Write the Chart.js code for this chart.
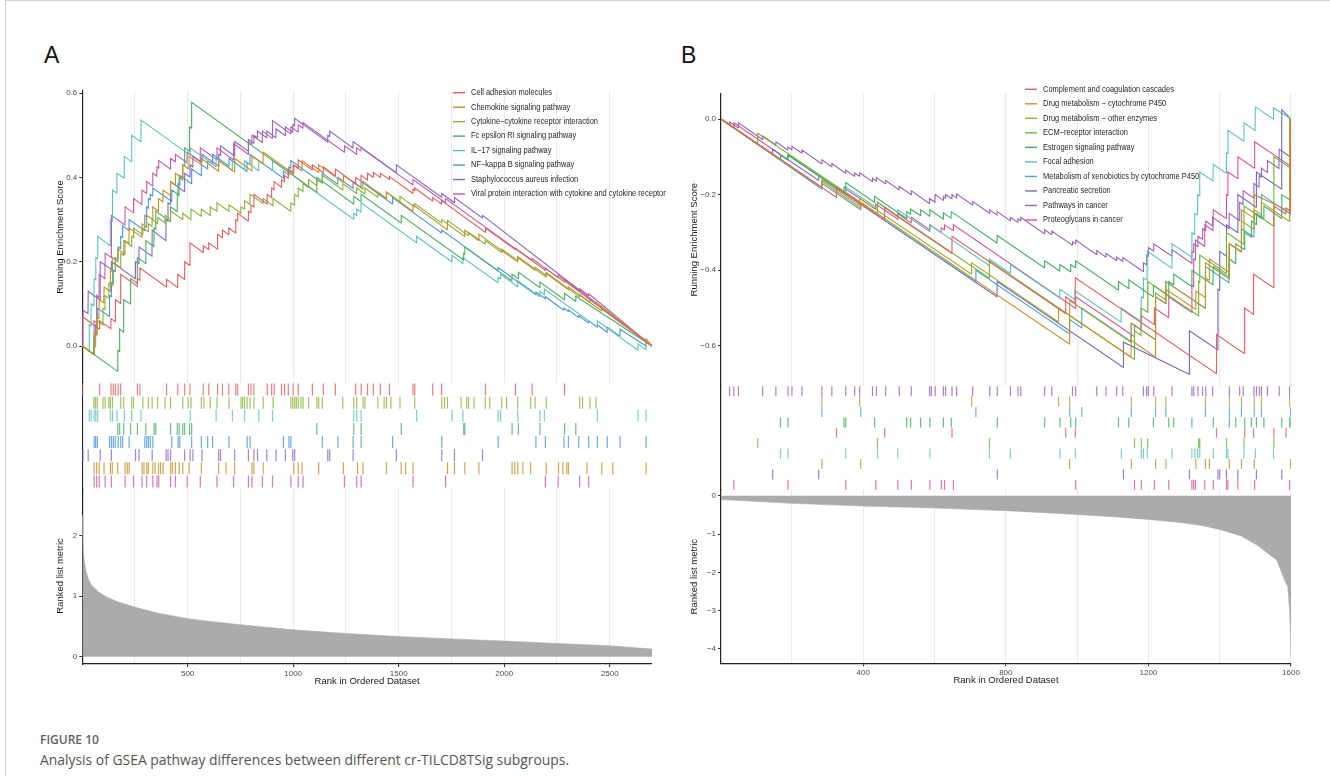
<!DOCTYPE html>
<html>
<head>
<meta charset="utf-8">
<script src="https://cdn.jsdelivr.net/npm/chart.js@4.4.1/dist/chart.umd.min.js"></script>
<style>
  html, body { margin: 0; padding: 0; background: #fff; }
  body { width: 1330px; height: 776px; position: relative; overflow: hidden; font-family: "Liberation Sans", Arial, sans-serif; }
  .frame { position: absolute; left: 5px; top: 0; width: 1325px; height: 776px; border-left: 1px solid #d4d4d4; border-top: 1px solid #d4d4d4; box-sizing: border-box; }
  .panel-label { position: absolute; top: 44px; font-size: 23px; line-height: 23px; color: #111; }
  canvas { position: absolute; }
  .fig-no { position: absolute; left: 40px; top: 733px; font-family: "Open Sans", sans-serif; font-weight: 600; font-size: 12px; line-height: 14px; color: #5f5f5f; }
  .caption { position: absolute; left: 40px; top: 751px; font-family: "Open Sans", sans-serif; font-size: 13.9px; line-height: 18px; color: #555; }
</style>
</head>
<body>
<div class="frame"></div>
<div class="panel-label" style="left:44px">A</div>
<div class="panel-label" style="left:681px">B</div>
<canvas id="gseaA" width="630" height="640" style="left:40px; top:70px"></canvas>
<canvas id="gseaB" width="630" height="640" style="left:680px; top:70px"></canvas>
<div class="fig-no">FIGURE 10</div>
<div class="caption">Analysis of GSEA pathway differences between different cr-TILCD8TSig subgroups.</div>

<script>
// ---------- panel A: up-regulated pathways ----------
const rankMaxA = 2700;
const namesA = [
  "Cell adhesion molecules",
  "Chemokine signaling pathway",
  "Cytokine\u2212cytokine receptor interaction",
  "Fc epsilon RI signaling pathway",
  "IL\u221217 signaling pathway",
  "NF\u2212kappa B signaling pathway",
  "Staphylococcus aureus infection",
  "Viral protein interaction with cytokine and cytokine receptor"
];
const colorsA = ["#E0625F", "#C39024", "#86B43C", "#4DAF60", "#5DC2BA", "#4A97DA", "#8768C4", "#C45BAA"];

// running enrichment score, [rank, score] vertices
const esCellAdhesion = [[1,0],[1,0.07],[82,0.04],[83,0.06],[136,0.041],[137,0.065],[157,0.058],[158,0.11],[182,0.101],[183,0.17],[261,0.142],[262,0.16],[273,0.156],[274,0.185],[399,0.14],[400,0.158],[452,0.139],[453,0.17],[485,0.158],[486,0.2],[510,0.191],[511,0.245],[573,0.222],[574,0.238],[599,0.229],[600,0.245],[641,0.23],[642,0.265],[664,0.257],[665,0.275],[694,0.264],[695,0.28],[727,0.268],[728,0.3],[736,0.297],[737,0.315],[787,0.297],[788,0.32],[799,0.316],[800,0.335],[813,0.33],[814,0.36],[876,0.337],[877,0.36],[897,0.352],[898,0.375],[909,0.371],[910,0.39],[944,0.377],[945,0.395],[958,0.39],[959,0.405],[976,0.398],[977,0.42],[999,0.412],[1000,0.43],[1023,0.421],[1024,0.442],[1090,0.418],[1091,0.43],[1142,0.411],[1143,0.425],[1199,0.404],[1200,0.42],[1295,0.385],[1296,0.4],[1321,0.391],[1322,0.405],[1351,0.394],[1352,0.41],[1379,0.4],[1380,0.412],[1412,0.4],[1413,0.41],[1455,0.395],[1456,0.402],[1567,0.362],[1568,0.372],[1575,0.369],[1576,0.375],[1660,0.344],[1661,0.352],[1702,0.337],[1703,0.345],[1910,0.27],[1911,0.28],[2052,0.229],[2053,0.232],[2131,0.204],[2132,0.207],[2285,0.152],[2286,0.155],[2700,0]];
const esChemokine = [[1,0],[56,-0.02],[57,0.03],[68,0.026],[69,0.07],[80,0.066],[81,0.11],[103,0.102],[104,0.14],[133,0.13],[134,0.18],[142,0.177],[143,0.21],[168,0.2],[169,0.23],[203,0.218],[204,0.25],[222,0.244],[223,0.28],[283,0.258],[284,0.29],[305,0.282],[306,0.31],[334,0.3],[335,0.33],[361,0.32],[362,0.35],[383,0.342],[384,0.37],[418,0.357],[419,0.39],[441,0.382],[442,0.41],[476,0.398],[477,0.43],[506,0.42],[507,0.45],[564,0.43],[565,0.445],[646,0.415],[647,0.44],[722,0.413],[723,0.445],[804,0.416],[805,0.45],[857,0.432],[858,0.46],[1002,0.408],[1003,0.43],[1041,0.416],[1042,0.44],[1120,0.412],[1121,0.43],[1237,0.388],[1238,0.405],[1330,0.372],[1331,0.39],[1441,0.35],[1442,0.365],[1567,0.32],[1568,0.335],[1730,0.276],[1731,0.29],[1812,0.26],[1813,0.275],[1879,0.25],[1880,0.265],[2063,0.2],[2064,0.212],[2198,0.164],[2199,0.172],[2303,0.134],[2304,0.14],[2461,0.083],[2462,0.088],[2671,0.013],[2672,0.017],[2700,0]];
const esCytokine = [[1,0],[55,-0.02],[56,0],[63,-0.002],[64,0.03],[71,0.027],[72,0.06],[98,0.05],[99,0.09],[108,0.087],[109,0.12],[126,0.114],[127,0.15],[143,0.144],[144,0.2],[182,0.186],[183,0.22],[196,0.215],[197,0.25],[234,0.236],[235,0.26],[243,0.257],[244,0.28],[287,0.264],[288,0.28],[313,0.271],[314,0.29],[331,0.284],[332,0.3],[357,0.29],[358,0.305],[392,0.292],[393,0.31],[418,0.3],[419,0.32],[476,0.3],[477,0.315],[515,0.3],[516,0.325],[564,0.308],[565,0.325],[606,0.31],[607,0.33],[638,0.32],[639,0.34],[695,0.32],[696,0.335],[752,0.315],[753,0.33],[769,0.325],[770,0.345],[795,0.336],[796,0.36],[857,0.338],[858,0.35],[904,0.333],[905,0.35],[988,0.32],[989,0.34],[1006,0.334],[1007,0.36],[1023,0.354],[1024,0.375],[1046,0.367],[1047,0.385],[1072,0.376],[1073,0.395],[1111,0.381],[1112,0.395],[1137,0.386],[1138,0.405],[1234,0.37],[1235,0.385],[1300,0.362],[1301,0.375],[1339,0.361],[1340,0.375],[1400,0.353],[1401,0.365],[1441,0.35],[1442,0.365],[1505,0.342],[1506,0.355],[1575,0.33],[1576,0.338],[1703,0.292],[1704,0.3],[1730,0.29],[1731,0.298],[1830,0.262],[1831,0.27],[1909,0.242],[1910,0.25],[1987,0.222],[1988,0.23],[2063,0.203],[2064,0.21],[2145,0.18],[2146,0.187],[2198,0.168],[2199,0.174],[2356,0.117],[2357,0.122],[2405,0.104],[2406,0.11],[2434,0.1],[2435,0.104],[2700,0]];
const esFcEpsilon = [[1,0],[168,-0.06],[169,-0.01],[177,-0.013],[178,0.04],[196,0.033],[197,0.11],[229,0.1],[230,0.16],[261,0.149],[262,0.21],[301,0.196],[302,0.25],[340,0.236],[341,0.28],[348,0.277],[349,0.32],[418,0.295],[419,0.33],[450,0.319],[451,0.36],[459,0.357],[460,0.4],[476,0.394],[477,0.43],[485,0.427],[486,0.47],[508,0.462],[509,0.52],[518,0.517],[519,0.578],[1111,0.365],[1112,0.4],[1286,0.337],[1287,0.355],[1321,0.343],[1322,0.36],[1511,0.292],[1512,0.31],[1807,0.204],[1808,0.22],[1812,0.218],[1813,0.235],[2036,0.155],[2037,0.17],[2066,0.16],[2067,0.175],[2168,0.139],[2169,0.152],[2285,0.11],[2286,0.125],[2338,0.106],[2339,0.118],[2700,0]];
const esIL17 = [[1,0],[33,-0.012],[34,0.05],[42,0.047],[43,0.1],[56,0.095],[57,0.16],[64,0.157],[65,0.21],[73,0.207],[74,0.26],[133,0.238],[134,0.3],[143,0.297],[144,0.37],[164,0.363],[165,0.41],[199,0.398],[200,0.45],[234,0.437],[235,0.5],[278,0.485],[279,0.536],[511,0.453],[512,0.47],[634,0.426],[635,0.445],[711,0.417],[712,0.44],[769,0.419],[770,0.44],[836,0.416],[837,0.44],[901,0.417],[902,0.44],[1286,0.301],[1287,0.315],[1300,0.31],[1301,0.325],[1321,0.318],[1322,0.34],[1584,0.245],[1585,0.26],[1751,0.2],[1752,0.215],[1803,0.196],[1804,0.21],[1970,0.15],[1971,0.163],[1982,0.159],[1983,0.17],[2063,0.141],[2064,0.155],[2168,0.117],[2169,0.13],[2189,0.122],[2190,0.135],[2440,0.045],[2441,0.06],[2633,-0.01],[2634,0.005],[2671,-0.008],[2672,0.01],[2700,0]];
const esNFkB = [[1,0],[56,-0.02],[57,0.02],[63,0.018],[64,0.05],[71,0.047],[72,0.09],[129,0.07],[130,0.12],[138,0.117],[139,0.15],[147,0.147],[148,0.18],[156,0.177],[157,0.21],[170,0.205],[171,0.235],[182,0.231],[183,0.26],[191,0.257],[192,0.285],[222,0.274],[223,0.3],[296,0.274],[297,0.31],[305,0.307],[306,0.33],[313,0.327],[314,0.35],[322,0.347],[323,0.36],[334,0.356],[335,0.375],[424,0.343],[425,0.37],[454,0.36],[455,0.385],[462,0.382],[463,0.405],[518,0.385],[519,0.42],[564,0.404],[565,0.43],[594,0.42],[595,0.44],[617,0.432],[618,0.455],[695,0.427],[696,0.445],[781,0.414],[782,0.435],[795,0.43],[796,0.455],[953,0.398],[954,0.415],[979,0.406],[980,0.425],[988,0.422],[989,0.44],[1137,0.387],[1138,0.41],[1211,0.384],[1212,0.4],[1283,0.374],[1284,0.39],[1321,0.376],[1322,0.39],[1470,0.337],[1471,0.352],[1703,0.268],[1704,0.275],[1970,0.179],[1971,0.186],[2149,0.122],[2150,0.128],[2194,0.112],[2195,0.117],[2282,0.085],[2283,0.09],[2303,0.082],[2304,0.086],[2352,0.068],[2353,0.072],[2399,0.055],[2400,0.06],[2440,0.045],[2441,0.05],[2487,0.033],[2488,0.045],[2548,0.023],[2549,0.04],[2671,0],[2672,0.01],[2700,0]];
const esStaph = [[1,0],[4,0],[4,0.085],[28,0.077],[29,0.13],[85,0.11],[86,0.2],[138,0.182],[139,0.2],[252,0.16],[253,0.2],[269,0.195],[270,0.235],[331,0.213],[332,0.275],[397,0.25],[398,0.3],[406,0.297],[407,0.34],[418,0.336],[419,0.39],[485,0.366],[486,0.41],[511,0.401],[512,0.43],[524,0.425],[525,0.45],[567,0.435],[568,0.455],[646,0.427],[647,0.455],[655,0.452],[656,0.475],[722,0.451],[723,0.485],[787,0.462],[788,0.49],[813,0.481],[814,0.5],[830,0.494],[831,0.51],[874,0.494],[875,0.51],[918,0.494],[919,0.515],[962,0.499],[963,0.52],[997,0.507],[998,0.525],[1006,0.522],[1007,0.54],[1163,0.484],[1164,0.5],[1172,0.497],[1173,0.51],[1283,0.47],[1284,0.485],[1488,0.411],[1489,0.43],[1703,0.353],[1704,0.362],[1763,0.34],[1764,0.352],[1896,0.304],[1897,0.31],[2700,0]];
const esViral = [[1,0],[56,-0.02],[57,0.06],[68,0.056],[69,0.12],[80,0.116],[81,0.17],[108,0.16],[109,0.22],[138,0.21],[139,0.31],[203,0.287],[204,0.33],[243,0.316],[244,0.35],[283,0.336],[284,0.37],[305,0.362],[306,0.39],[334,0.38],[335,0.41],[354,0.403],[355,0.425],[362,0.422],[363,0.44],[418,0.42],[419,0.445],[441,0.437],[442,0.455],[497,0.435],[498,0.46],[559,0.438],[560,0.47],[638,0.442],[639,0.47],[717,0.442],[718,0.48],[787,0.455],[788,0.485],[804,0.479],[805,0.5],[853,0.483],[854,0.51],[901,0.493],[902,0.535],[988,0.504],[989,0.52],[1023,0.508],[1024,0.525],[1046,0.517],[1047,0.53],[1242,0.46],[1243,0.475],[1300,0.455],[1301,0.47],[1321,0.463],[1322,0.47],[1567,0.382],[1568,0.395],[1721,0.34],[1722,0.35],[2194,0.18],[2195,0.185],[2254,0.163],[2255,0.168],[2356,0.131],[2357,0.136],[2399,0.12],[2400,0.124],[2700,0]];

// gene hit positions for each set
const hitsCellAdhesion = [2,83,137,148,158,171,183,262,274,400,453,486,511,574,600,642,665,695,728,737,788,800,814,877,898,910,945,959,977,1000,1024,1091,1143,1200,1296,1322,1352,1380,1413,1456,1568,1576,1661,1703,1911,2053,2132,2286];
const hitsChemokine = [57,69,81,104,134,143,169,204,214,223,284,293,306,314,335,346,362,372,384,419,428,442,460,477,507,565,647,682,723,805,814,858,1003,1024,1042,1121,1238,1305,1331,1442,1512,1533,1568,1731,1764,1813,1880,2037,2050,2064,2088,2125,2199,2257,2278,2296,2304,2392,2462,2514,2672];
const hitsCytokine = [56,64,72,99,109,127,134,144,183,197,235,244,288,314,332,358,393,419,477,502,516,565,577,607,639,696,753,761,770,782,796,814,858,905,989,998,1007,1015,1024,1037,1047,1073,1112,1121,1138,1235,1287,1301,1331,1340,1401,1431,1442,1463,1506,1576,1704,1717,1731,1796,1822,1831,1857,1910,1931,1988,2011,2064,2125,2146,2199,2357,2371,2406,2435];
const hitsFcEpsilon = [169,178,197,230,262,302,341,349,419,451,460,477,486,509,519,1112,1287,1322,1512,1808,1813,2037,2067,2169,2286,2339];
const hitsIL17 = [34,43,57,65,74,134,144,165,200,235,279,512,635,712,770,837,902,1287,1301,1322,1585,1752,1804,1971,1983,2064,2169,2190,2441,2634,2672];
const hitsNFkB = [57,64,72,130,139,148,157,171,183,192,223,297,306,314,323,335,425,455,463,519,565,595,618,696,782,796,954,980,989,1138,1212,1284,1322,1471,1704,1971,2150,2195,2283,2304,2353,2400,2441,2488,2549,2672];
const hitsStaph = [4,29,86,139,253,270,332,398,407,419,486,512,525,568,647,656,723,788,814,831,875,919,963,998,1007,1164,1173,1284,1489,1704,1764,1897];
const hitsViral = [57,69,81,109,139,204,244,284,306,335,355,363,419,442,498,560,639,718,788,805,854,902,989,1024,1047,1243,1301,1322,1568,1722,2195,2255,2357,2400];

// ranked list metric
const metricRanksA = [1,3,6,10,18,30,45,75,120,175,270,360,500,640,750,1000,1250,1500,1750,2000,2250,2500,2700];
const metricValuesA = [2.34,2.0,1.75,1.6,1.42,1.28,1.18,1.08,0.98,0.9,0.8,0.72,0.63,0.57,0.53,0.445,0.385,0.335,0.295,0.26,0.22,0.18,0.127];

const rankLabelsA = [500, 1000, 1500, 2000, 2500];
const rankMinorA = [250, 750, 1250, 1750, 2250];
const esTicksA = [0, 0.2, 0.4, 0.6];
const metricTicksA = [0, 1, 2];

// ---------- panel B: down-regulated pathways ----------
const rankMaxB = 1600;
const namesB = [
  "Complement and coagulation cascades",
  "Drug metabolism \u2212 cytochrome P450",
  "Drug metabolism \u2212 other enzymes",
  "ECM\u2212receptor interaction",
  "Estrogen signaling pathway",
  "Focal adhesion",
  "Metabolism of xenobiotics by cytochrome P450",
  "Pancreatic secretion",
  "Pathways in cancer",
  "Proteoglycans in cancer"
];
const colorsB = ["#E0625F", "#C8902A", "#A3A82A", "#6BB536", "#3FAE62", "#5EC3BA", "#4AA3DE", "#6E6BC0", "#9B62B8", "#D9529C"];

const esComplement = [[1,0],[324,-0.207],[325,-0.18],[459,-0.266],[460,-0.235],[648,-0.355],[649,-0.31],[967,-0.514],[968,-0.47],[994,-0.487],[995,-0.42],[1390,-0.673],[1391,-0.57],[1469,-0.62],[1470,-0.5],[1494,-0.516],[1495,-0.41],[1551,-0.446],[1552,-0.23],[1585,-0.251],[1586,-0.235],[1599,-0.243],[1600,0]];
const esDrugP450 = [[1,0],[283,-0.18],[284,-0.165],[392,-0.235],[393,-0.22],[978,-0.595],[979,-0.52],[1151,-0.63],[1152,-0.585],[1219,-0.629],[1220,-0.47],[1248,-0.488],[1249,-0.45],[1332,-0.503],[1333,-0.455],[1359,-0.472],[1360,-0.42],[1370,-0.426],[1371,-0.37],[1426,-0.405],[1427,-0.33],[1460,-0.351],[1461,-0.24],[1496,-0.262],[1497,-0.2],[1598,-0.245],[1599,0],[1600,0]];
const esDrugOther = [[1,0],[283,-0.18],[284,-0.16],[389,-0.228],[390,-0.21],[703,-0.41],[704,-0.38],[947,-0.536],[948,-0.5],[978,-0.519],[979,-0.48],[1151,-0.59],[1152,-0.54],[1219,-0.583],[1220,-0.46],[1248,-0.478],[1249,-0.43],[1359,-0.5],[1360,-0.38],[1426,-0.423],[1427,-0.33],[1460,-0.351],[1461,-0.27],[1496,-0.292],[1497,-0.24],[1516,-0.252],[1517,-0.22],[1595,-0.27],[1596,0],[1600,0]];
const esECM = [[1,0],[103,-0.066],[104,-0.038],[439,-0.25],[440,-0.22],[753,-0.42],[754,-0.375],[1160,-0.635],[1161,-0.56],[1179,-0.572],[1180,-0.5],[1197,-0.511],[1198,-0.43],[1340,-0.52],[1341,-0.43],[1343,-0.432],[1344,-0.36],[1418,-0.408],[1419,-0.3],[1467,-0.331],[1468,-0.23],[1551,-0.283],[1552,-0.1],[1599,-0.13],[1600,0]];
const esEstrogen = [[1,0],[167,-0.107],[168,-0.095],[188,-0.108],[189,-0.095],[345,-0.195],[346,-0.18],[350,-0.183],[351,-0.168],[431,-0.22],[432,-0.205],[521,-0.262],[522,-0.245],[532,-0.252],[533,-0.238],[560,-0.255],[561,-0.24],[586,-0.257],[587,-0.24],[624,-0.264],[625,-0.248],[646,-0.262],[647,-0.245],[775,-0.328],[776,-0.308],[908,-0.393],[909,-0.375],[951,-0.402],[952,-0.385],[981,-0.404],[982,-0.385],[995,-0.393],[996,-0.375],[1115,-0.452],[1116,-0.43],[1144,-0.448],[1145,-0.425],[1213,-0.47],[1214,-0.44],[1256,-0.468],[1257,-0.43],[1270,-0.438],[1271,-0.41],[1321,-0.443],[1322,-0.4],[1381,-0.438],[1382,-0.39],[1426,-0.418],[1427,-0.37],[1444,-0.382],[1445,-0.33],[1469,-0.345],[1470,-0.3],[1488,-0.312],[1489,-0.27],[1502,-0.279],[1503,-0.25],[1523,-0.263],[1524,-0.23],[1573,-0.262],[1574,-0.2],[1595,-0.213],[1596,-0.12],[1599,-0.122],[1600,0]];
const esFocal = [[1,0],[167,-0.107],[168,-0.095],[188,-0.108],[189,-0.095],[350,-0.198],[351,-0.18],[439,-0.236],[440,-0.22],[496,-0.256],[497,-0.24],[586,-0.297],[587,-0.28],[753,-0.387],[754,-0.37],[812,-0.408],[813,-0.385],[951,-0.473],[952,-0.45],[994,-0.477],[995,-0.455],[1123,-0.537],[1124,-0.5],[1179,-0.535],[1180,-0.47],[1185,-0.473],[1186,-0.42],[1196,-0.426],[1197,-0.35],[1265,-0.394],[1266,-0.33],[1321,-0.365],[1322,-0.3],[1329,-0.305],[1330,-0.25],[1337,-0.254],[1338,-0.2],[1343,-0.203],[1344,-0.14],[1381,-0.164],[1382,-0.12],[1418,-0.143],[1419,-0.09],[1422,-0.092],[1423,-0.03],[1467,-0.058],[1468,-0.01],[1499,-0.03],[1500,0.032],[1550,0],[1551,0.03],[1600,0]];
const esXenobiotics = [[1,0],[283,-0.185],[284,-0.17],[392,-0.24],[393,-0.225],[715,-0.43],[716,-0.4],[978,-0.568],[979,-0.53],[1012,-0.552],[1013,-0.5],[1151,-0.588],[1152,-0.54],[1219,-0.583],[1220,-0.47],[1248,-0.488],[1249,-0.43],[1359,-0.5],[1360,-0.39],[1426,-0.433],[1427,-0.33],[1460,-0.351],[1461,-0.29],[1496,-0.312],[1497,-0.25],[1516,-0.262],[1517,-0.2],[1598,-0.252],[1599,0],[1600,0]];
const esPancreatic = [[1,0],[145,-0.093],[146,-0.08],[274,-0.162],[275,-0.15],[775,-0.47],[776,-0.43],[1129,-0.656],[1130,-0.59],[1314,-0.675],[1315,-0.56],[1394,-0.61],[1395,-0.45],[1399,-0.453],[1400,-0.35],[1418,-0.362],[1419,-0.28],[1450,-0.3],[1451,-0.2],[1502,-0.233],[1503,-0.14],[1573,-0.185],[1574,0.025],[1600,0]];
const esPathways = [[1,0],[24,-0.016],[25,-0.008],[49,-0.023],[50,-0.01],[117,-0.054],[118,-0.045],[154,-0.068],[155,-0.06],[188,-0.082],[189,-0.074],[199,-0.081],[200,-0.072],[227,-0.09],[228,-0.082],[283,-0.118],[284,-0.108],[311,-0.126],[312,-0.118],[350,-0.143],[351,-0.135],[375,-0.151],[376,-0.143],[389,-0.151],[390,-0.142],[425,-0.165],[426,-0.157],[436,-0.164],[437,-0.155],[462,-0.171],[463,-0.163],[500,-0.187],[501,-0.178],[534,-0.2],[535,-0.19],[585,-0.223],[586,-0.21],[601,-0.22],[602,-0.2],[624,-0.215],[625,-0.205],[630,-0.209],[631,-0.2],[648,-0.211],[649,-0.2],[661,-0.208],[662,-0.198],[706,-0.227],[707,-0.218],[754,-0.249],[755,-0.24],[775,-0.254],[776,-0.245],[812,-0.269],[813,-0.26],[833,-0.273],[834,-0.264],[841,-0.269],[842,-0.26],[908,-0.303],[909,-0.293],[928,-0.305],[929,-0.296],[986,-0.333],[987,-0.324],[995,-0.33],[996,-0.32],[1054,-0.358],[1055,-0.348],[1080,-0.365],[1081,-0.355],[1110,-0.374],[1111,-0.365],[1127,-0.376],[1128,-0.366],[1185,-0.403],[1186,-0.38],[1194,-0.385],[1195,-0.36],[1199,-0.363],[1200,-0.34],[1214,-0.349],[1215,-0.33],[1265,-0.362],[1266,-0.345],[1321,-0.381],[1322,-0.35],[1326,-0.352],[1327,-0.33],[1338,-0.337],[1339,-0.31],[1351,-0.318],[1352,-0.29],[1360,-0.295],[1361,-0.27],[1379,-0.282],[1380,-0.26],[1426,-0.29],[1427,-0.25],[1455,-0.268],[1456,-0.22],[1465,-0.226],[1466,-0.19],[1495,-0.209],[1496,-0.17],[1510,-0.18],[1511,-0.15],[1516,-0.153],[1517,-0.13],[1533,-0.141],[1534,-0.11],[1566,-0.131],[1567,-0.08],[1595,-0.098],[1596,0],[1600,0]];
const esProteoglycans = [[1,0],[36,-0.023],[37,-0.01],[188,-0.107],[189,-0.095],[350,-0.198],[351,-0.185],[434,-0.238],[435,-0.225],[496,-0.264],[497,-0.25],[534,-0.274],[535,-0.26],[586,-0.293],[587,-0.28],[618,-0.3],[619,-0.288],[627,-0.293],[628,-0.28],[652,-0.295],[653,-0.28],[995,-0.5],[996,-0.47],[1160,-0.575],[1161,-0.545],[1179,-0.557],[1180,-0.52],[1216,-0.543],[1217,-0.5],[1256,-0.525],[1257,-0.47],[1321,-0.511],[1322,-0.44],[1326,-0.443],[1327,-0.37],[1331,-0.373],[1332,-0.32],[1357,-0.336],[1358,-0.28],[1381,-0.295],[1382,-0.24],[1418,-0.263],[1419,-0.2],[1422,-0.202],[1423,-0.14],[1450,-0.157],[1451,-0.1],[1497,-0.13],[1498,-0.06],[1595,-0.122],[1596,0],[1600,0]];

const hitsComplement = [325,460,649,968,995,1391,1470,1495,1552,1586];
const hitsDrugP450 = [284,393,979,1152,1220,1249,1333,1360,1371,1427,1461,1497,1599];
const hitsDrugOther = [284,390,704,948,979,1152,1220,1249,1360,1427,1461,1497,1517,1596];
const hitsECM = [104,440,754,1161,1180,1198,1341,1344,1419,1468,1552];
const hitsEstrogen = [168,189,346,351,432,522,533,561,587,625,647,776,909,952,982,996,1116,1145,1214,1257,1271,1322,1382,1427,1445,1470,1489,1503,1524,1574,1596,1600];
const hitsFocal = [168,189,351,440,497,587,754,813,952,995,1124,1180,1186,1197,1266,1322,1330,1338,1344,1382,1419,1423,1468,1500,1551];
const hitsXenobiotics = [284,393,716,979,1013,1152,1220,1249,1360,1427,1461,1497,1517,1599];
const hitsPancreatic = [146,275,776,1130,1315,1395,1400,1419,1451,1503,1574];
const hitsPathways = [25,37,50,118,155,189,200,228,284,312,351,376,390,426,437,463,501,535,586,591,602,625,631,649,662,707,755,776,813,834,842,909,929,987,996,1055,1081,1111,1128,1186,1195,1200,1215,1266,1322,1327,1339,1352,1361,1380,1427,1456,1466,1496,1503,1511,1517,1534,1567,1596];
const hitsProteoglycans = [37,189,351,435,497,535,587,619,628,653,996,1161,1180,1217,1257,1322,1327,1332,1358,1382,1419,1423,1451,1498,1596];

const metricRanksB = [1,200,400,600,800,1000,1120,1200,1290,1350,1400,1460,1505,1537,1560,1571,1582,1591,1596,1598,1600];
const metricValuesB = [-0.1,-0.2,-0.27,-0.32,-0.39,-0.49,-0.56,-0.62,-0.7,-0.78,-0.88,-1.05,-1.29,-1.52,-1.68,-1.94,-2.2,-2.38,-2.98,-3.4,-4.2];

const rankLabelsB = [400, 800, 1200, 1600];
const rankMinorB = [200, 600, 1000, 1400];
const esTicksB = [-0.6, -0.4, -0.2, 0];
const metricTicksB = [-4, -3, -2, -1, 0];

// ---------- drawing ----------
Chart.defaults.font.family = '"Liberation Sans", Arial, sans-serif';
Chart.defaults.color = '#4D4D4D';
Chart.defaults.animation = false;

const minus = v => (v < 0 ? '\u2212' : '') + Math.abs(v);
const fmtES = v => (v < 0 ? '\u2212' : '') + Math.abs(v).toFixed(1);

// hides the x grid behind the rug strip
const rugBackdrop = {
  id: 'rugBackdrop',
  beforeDatasetsDraw(chart) {
    const rug = chart.scales.yRug, area = chart.chartArea, ctx = chart.ctx;
    ctx.save();
    ctx.fillStyle = '#fff';
    ctx.fillRect(area.left + 1, rug.top, area.right - area.left, rug.bottom - rug.top);
    ctx.restore();
  }
};

// in-panel legend, line key + slightly condensed label
const gseaLegend = {
  id: 'gseaLegend',
  afterDatasetsDraw(chart, args, opts) {
    const ctx = chart.ctx;
    ctx.save();
    ctx.font = '8.6px "Liberation Sans", Arial, sans-serif';
    ctx.textBaseline = 'middle';
    opts.labels.forEach((label, i) => {
      const y = opts.top + i * opts.gap;
      ctx.strokeStyle = opts.colors[i];
      ctx.lineWidth = 1.4;
      ctx.beginPath();
      ctx.moveTo(opts.left, y);
      ctx.lineTo(opts.left + 12, y);
      ctx.stroke();
      ctx.save();
      ctx.translate(opts.left + 18, y);
      ctx.scale(0.87, 1);
      ctx.fillStyle = '#262626';
      ctx.fillText(label, 0, 0);
      ctx.restore();
    });
    ctx.restore();
  }
};

function buildPanel(id, p) {
  const datasets = [];
  p.curves.forEach((curve, i) => datasets.push({
    label: p.names[i], yAxisID: 'yES',
    data: curve.map(([x, y]) => ({x, y})),
    borderColor: p.colors[i], borderWidth: 1.1, pointRadius: 0, fill: false
  }));
  p.rugOrder.forEach((k, row) => datasets.push({
    label: p.names[k], yAxisID: 'yRug', showLine: false,
    data: p.hits[k].map(x => ({x, y: row + 1})),
    pointStyle: 'line', pointRotation: 90, pointRadius: p.rugRadius,
    pointBorderColor: p.colors[k] + 'cc', pointBorderWidth: 1.2
  }));
  datasets.push({
    label: 'Ranked list metric', yAxisID: 'yMetric',
    data: p.metricRanks.map((x, i) => ({x, y: p.metricValues[i]})),
    fill: 'origin', backgroundColor: '#ABABAB', borderColor: '#ABABAB',
    borderWidth: 0.6, pointRadius: 0
  });

  const axisBorder = {color: '#222', width: 1.2};
  const tickFont = {size: 8};
  const titleFont = {size: 9.5};
  const yWidth = s => { s.width = p.yWidth; };

  new Chart(document.getElementById(id), {
    type: 'line',
    data: {datasets},
    plugins: [rugBackdrop, gseaLegend],
    options: {
      responsive: false,
      events: [],
      layout: {padding: p.padding},
      plugins: {
        legend: {display: false},
        tooltip: {enabled: false},
        gseaLegend: p.legend
      },
      scales: {
        x: {
          type: 'linear', min: 1, max: p.rankMax,
          afterBuildTicks: s => { s.ticks = [...p.rankLabels, ...p.rankMinor].sort((a, b) => a - b).map(value => ({value})); },
          afterFit: s => { s.height = 30; },
          grid: {
            color: '#EBEBEB', lineWidth: 1.1, tickLength: 3,
            tickColor: c => p.rankLabels.includes(c.tick && c.tick.value) ? '#333' : 'rgba(0,0,0,0)'
          },
          border: axisBorder,
          ticks: {
            autoSkip: false, maxRotation: 0, padding: 1.5, font: tickFont,
            callback: v => p.rankLabels.includes(v) ? String(v) : ''
          },
          title: {display: true, text: 'Rank in Ordered Dataset', color: '#1a1a1a', font: titleFont, padding: {top: 0, bottom: 7.3}}
        },
        yMetric: {
          type: 'linear', position: 'left', stack: 'panel', stackWeight: p.weights[2],
          min: p.metricRange[0], max: p.metricRange[1],
          afterBuildTicks: s => { s.ticks = p.metricTicks.map(value => ({value})); },
          afterFit: yWidth,
          grid: {drawOnChartArea: false, tickLength: 3, color: '#333'},
          border: axisBorder,
          ticks: {font: tickFont, padding: 2, callback: v => minus(v)},
          title: {display: true, text: 'Ranked list metric', color: '#1a1a1a', font: titleFont, padding: {top: p.titlePad, bottom: 0}}
        },
        yRug: {
          type: 'linear', position: 'left', stack: 'panel', stackWeight: p.weights[1],
          min: 0.5, max: p.rugOrder.length + 0.5, reverse: true,
          afterFit: yWidth,
          grid: {display: false},
          border: axisBorder,
          ticks: {display: false}
        },
        yES: {
          type: 'linear', position: 'left', stack: 'panel', stackWeight: p.weights[0],
          min: p.esRange[0], max: p.esRange[1],
          afterBuildTicks: s => { s.ticks = p.esTicks.map(value => ({value})); },
          afterFit: yWidth,
          grid: {drawOnChartArea: false, tickLength: 3, color: '#333'},
          border: axisBorder,
          ticks: {font: tickFont, padding: 2, callback: v => fmtES(v)},
          title: {display: true, text: 'Running Enrichment Score', color: '#1a1a1a', font: titleFont, padding: {top: p.titlePad, bottom: 0}}
        }
      }
    }
  });
}

buildPanel('gseaA', {
  names: namesA, colors: colorsA, rankMax: rankMaxA,
  curves: [esCellAdhesion, esChemokine, esCytokine, esFcEpsilon, esIL17, esNFkB, esStaph, esViral],
  hits: [hitsCellAdhesion, hitsChemokine, hitsCytokine, hitsFcEpsilon, hitsIL17, hitsNFkB, hitsStaph, hitsViral],
  rugOrder: [0, 2, 4, 3, 5, 6, 1, 7],
  rugRadius: 6,
  metricRanks: metricRanksA, metricValues: metricValuesA,
  rankLabels: rankLabelsA, rankMinor: rankMinorA,
  esTicks: esTicksA, metricTicks: metricTicksA,
  esRange: [-0.0877, 0.605], metricRange: [-0.12, 2.79],
  weights: [292, 105, 176],
  yWidth: 30, titlePad: 2.5,
  padding: {left: 12.3, top: 21, right: 18, bottom: 16},
  legend: {labels: namesA, colors: colorsA, left: 413, top: 22.7, gap: 14.47}
});

buildPanel('gseaB', {
  names: namesB, colors: colorsB, rankMax: rankMaxB,
  curves: [esComplement, esDrugP450, esDrugOther, esECM, esEstrogen, esFocal, esXenobiotics, esPancreatic, esPathways, esProteoglycans],
  hits: [hitsComplement, hitsDrugP450, hitsDrugOther, hitsECM, hitsEstrogen, hitsFocal, hitsXenobiotics, hitsPancreatic, hitsPathways, hitsProteoglycans],
  rugOrder: [8, 2, 6, 4, 0, 3, 5, 1, 7, 9],
  rugRadius: 5,
  metricRanks: metricRanksB, metricValues: metricValuesB,
  rankLabels: rankLabelsB, rankMinor: rankMinorB,
  esTicks: esTicksB, metricTicks: metricTicksB,
  esRange: [-0.706, 0.068], metricRange: [-4.376, 0.149],
  weights: [292.7, 104, 173.3],
  yWidth: 34, titlePad: 1.3,
  padding: {left: 7, top: 23.3, right: 19, bottom: 16.7},
  legend: {labels: namesB, colors: colorsB, left: 345, top: 19.3, gap: 14.52}
});
</script>
</body>
</html>
